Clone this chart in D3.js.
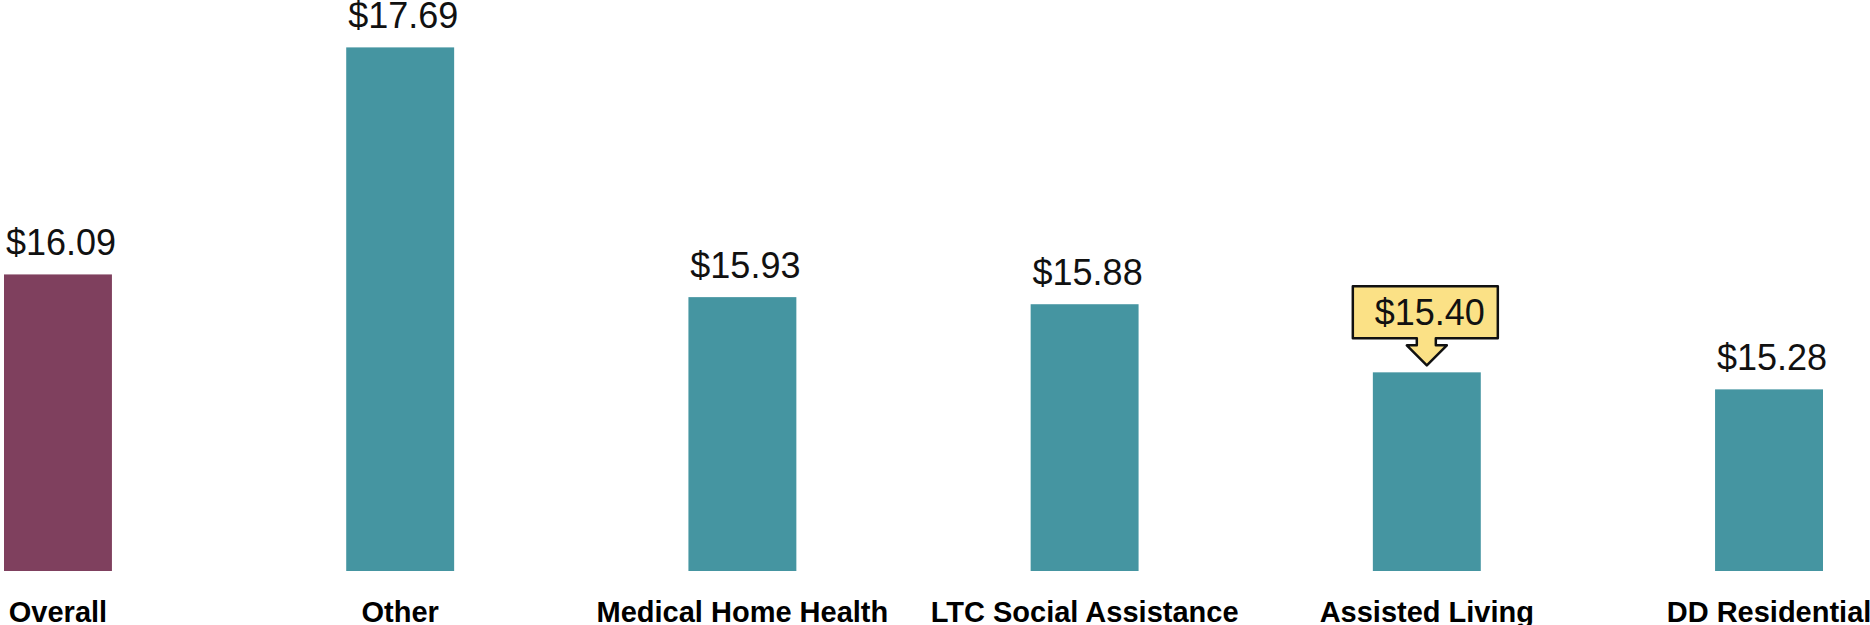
<!DOCTYPE html>
<html>
<head>
<meta charset="utf-8">
<script src="https://cdn.jsdelivr.net/npm/d3@7.9.0/dist/d3.min.js"></script>
<style>
  body { margin: 0; background: #fff; }
  .value { font-family: "Liberation Sans", Arial, sans-serif; font-size: 36px; fill: #111; }
  .cat { font-family: "Liberation Sans Narrow", "Liberation Sans", sans-serif; font-weight: bold; font-size: 29px; fill: #000; }
</style>
</head>
<body>
<svg id="chart" width="1870" height="625"></svg>
<script>
// data
const categories = ["Overall", "Other", "Medical Home Health", "LTC Social Assistance", "Assisted Living", "DD Residential"];
const wages = [16.09, 17.69, 15.93, 15.88, 15.40, 15.28];
const overallCategory = "Overall";
const calloutCategory = "Assisted Living";

const data = categories.map((c, i) => ({ label: c, value: wages[i] }));

const svg = d3.select("#chart");

// scales
const x = d3.scaleBand()
    .domain(categories)
    .range([4, 1823])
    .paddingInner(0.6846)
    .paddingOuter(0);

const y = d3.scaleLinear()
    .domain([14, 18])
    .range([571, 3.4]);

const fmt = d => "$" + d.toFixed(2);

// bars
svg.selectAll("rect.bar")
    .data(data)
    .join("rect")
    .attr("class", "bar")
    .attr("x", d => x(d.label))
    .attr("y", d => y(d.value))
    .attr("width", x.bandwidth())
    .attr("height", d => y(14) - y(d.value))
    .attr("fill", d => d.label === overallCategory ? "#7f405e" : "#4595a1");

// value labels (the callout one gets its own box)
svg.selectAll("text.value")
    .data(data.filter(d => d.label !== calloutCategory))
    .join("text")
    .attr("class", "value")
    .attr("x", d => x(d.label) + x.bandwidth() / 2 + 3)
    .attr("y", d => y(d.value) - 19)
    .attr("text-anchor", "middle")
    .text(d => fmt(d.value));

// callout
const c = data.find(d => d.label === calloutCategory);
const cx = x(c.label) + x.bandwidth() / 2;
const barTop = y(c.value);
const boxL = cx - 74, boxR = cx + 71, boxT = barTop - 86, boxB = barTop - 34;
const headT = barTop - 27, tipY = barTop - 7;
const shaftL = cx - 10, shaftR = cx + 9, wingL = cx - 20, wingR = cx + 20;

const p = d3.path();
p.moveTo(boxL, boxT);
p.lineTo(boxR, boxT);
p.lineTo(boxR, boxB);
p.lineTo(shaftR, boxB);
p.lineTo(shaftR, headT);
p.lineTo(wingR, headT);
p.lineTo(cx, tipY);
p.lineTo(wingL, headT);
p.lineTo(shaftL, headT);
p.lineTo(shaftL, boxB);
p.lineTo(boxL, boxB);
p.closePath();

svg.append("path")
    .attr("d", p.toString())
    .attr("fill", "#fbe186")
    .attr("stroke", "#111")
    .attr("stroke-width", 2.5)
    .attr("stroke-linejoin", "round");

svg.append("text")
    .attr("class", "value")
    .attr("x", cx + 3)
    .attr("y", barTop - 47)
    .attr("text-anchor", "middle")
    .text(fmt(c.value));

// category labels
svg.selectAll("text.cat")
    .data(data)
    .join("text")
    .attr("class", "cat")
    .attr("x", d => x(d.label) + x.bandwidth() / 2)
    .attr("y", 622)
    .attr("text-anchor", "middle")
    .text(d => d.label);
</script>
</body>
</html>
